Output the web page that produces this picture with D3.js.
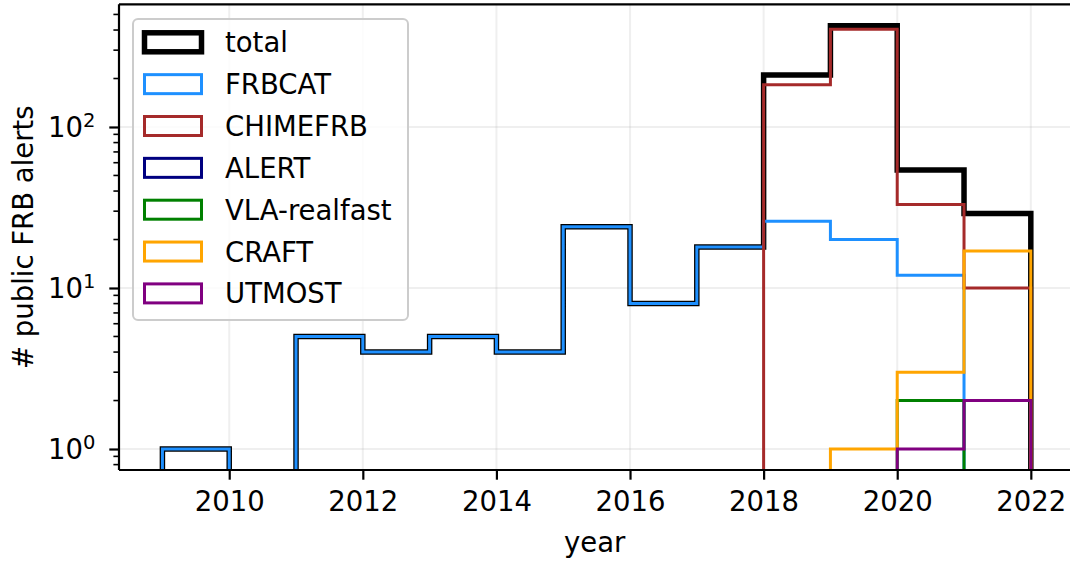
<!DOCTYPE html>
<html>
<head>
<meta charset="utf-8">
<script src="https://cdn.jsdelivr.net/npm/d3@7"></script>
<style>
  body { margin: 0; background: #fff; }
  text { font-family: "DejaVu Sans", sans-serif; fill: #000; }
</style>
</head>
<body>
<svg id="chart" width="1070" height="561"></svg>
<script>
// bin edges (years) and counts per bin
var binEdges = [2009, 2010, 2011, 2012, 2013, 2014, 2015, 2016, 2017, 2018, 2019, 2020, 2021, 2022];
var total    = [1, 0, 5, 4, 5, 4, 24, 8, 18, 210, 425, 54, 29];
var frbcat   = [1, 0, 5, 4, 5, 4, 24, 8, 18, 26, 20, 12, 0];
var chimefrb = [0, 0, 0, 0, 0, 0, 0, 0, 0, 183, 405, 33, 10];
var alert_   = [0, 0, 0, 0, 0, 0, 0, 0, 0, 0, 0, 0, 0];
var vla      = [0, 0, 0, 0, 0, 0, 0, 0, 0, 0, 0, 2, 0];
var craft    = [0, 0, 0, 0, 0, 0, 0, 0, 0, 0, 1, 3, 17];
var utmost   = [0, 0, 0, 0, 0, 0, 0, 0, 0, 0, 0, 1, 2];

var seriesNames  = ["total", "FRBCAT", "CHIMEFRB", "ALERT", "VLA-realfast", "CRAFT", "UTMOST"];
var seriesValues = [total, frbcat, chimefrb, alert_, vla, craft, utmost];
var seriesColors = ["#000000", "#1e90ff", "#a52a2a", "#000080", "#008000", "#ffa500", "#800080"];

var xTicks = [2010, 2012, 2014, 2016, 2018, 2020, 2022];
var yTicks = [1, 10, 100];

var marginLeft = 119, marginTop = 4.3;
var plotW = 1100 - marginLeft;
var plotH = 470 - marginTop;
var fontSize = 27.5;

var svg = d3.select("#chart");

var xScale = d3.scaleLinear().domain([2008.35, 2022.65]).range([0, 14.3 * 66.8]);
var yScale = d3.scaleLog().domain([0.7407, 578]).range([plotH, 0]);

var g = svg.append("g").attr("transform", "translate(" + marginLeft + "," + marginTop + ")");

svg.append("defs").append("clipPath").attr("id", "clip")
  .append("rect").attr("x", 0).attr("y", 0).attr("width", plotW).attr("height", plotH);

// grid
g.append("g").selectAll("line").data(xTicks).enter().append("line")
  .attr("x1", function(d) { return xScale(d); })
  .attr("x2", function(d) { return xScale(d); })
  .attr("y1", 0).attr("y2", plotH)
  .attr("stroke", "#b0b0b0").attr("stroke-opacity", 0.2).attr("stroke-width", 2);
g.append("g").selectAll("line").data(yTicks).enter().append("line")
  .attr("x1", 0).attr("x2", plotW)
  .attr("y1", function(d) { return yScale(d); })
  .attr("y2", function(d) { return yScale(d); })
  .attr("stroke", "#b0b0b0").attr("stroke-opacity", 0.2).attr("stroke-width", 2);

// step outlines
var line = d3.line();
function stepPoints(vals) {
  var yv = function(v) { return v > 0 ? yScale(v) : plotH + 20; };
  var pts = [[xScale(binEdges[0]), plotH + 20]];
  vals.forEach(function(v, i) {
    pts.push([xScale(binEdges[i]), yv(v)]);
    pts.push([xScale(binEdges[i + 1]), yv(v)]);
  });
  pts.push([xScale(binEdges[binEdges.length - 1]), plotH + 20]);
  return pts;
}

g.append("g").attr("clip-path", "url(#clip)")
  .selectAll("path").data(seriesValues).enter().append("path")
  .attr("d", function(d) { return line(stepPoints(d)); })
  .attr("fill", "none")
  .attr("stroke", function(d, i) { return seriesColors[i]; })
  .attr("stroke-width", function(d, i) { return i == 0 ? 5.5 : 3; })
  .attr("stroke-linejoin", "miter");

// x axis
var xAxis = g.append("g").attr("transform", "translate(0," + plotH + ")")
  .call(d3.axisBottom(xScale).tickValues(xTicks).tickFormat(d3.format("d"))
    .tickSize(9.7).tickPadding(12).tickSizeOuter(0));
xAxis.select(".domain").remove();
xAxis.selectAll("line").attr("stroke-width", 2.2);
xAxis.selectAll("text").style("font-size", fontSize + "px").style("font-family", "DejaVu Sans");

// y axis: major ticks + minor log ticks
var minorTicks = [];
[0.1, 1, 10, 100].forEach(function(dec) {
  for (var k = 2; k <= 9; k++) {
    var v = dec * k;
    if (v >= 0.7407 && v <= 578) minorTicks.push(v);
  }
});
g.append("g").selectAll("line").data(minorTicks).enter().append("line")
  .attr("x1", -5.6).attr("x2", 0)
  .attr("y1", function(d) { return yScale(d); })
  .attr("y2", function(d) { return yScale(d); })
  .attr("stroke", "#000").attr("stroke-width", 1.6);

var yAxis = g.append("g")
  .call(d3.axisLeft(yScale).tickValues(yTicks).tickFormat("").tickSize(9.7).tickSizeOuter(0));
yAxis.select(".domain").remove();
yAxis.selectAll("line").attr("stroke-width", 2.2);
yAxis.selectAll(".tick").each(function(d) {
  var t = d3.select(this).select("text")
    .attr("x", -23.5).attr("dy", "0.36em")
    .attr("text-anchor", "end")
    .style("font-size", fontSize + "px").style("font-family", "DejaVu Sans");
  t.append("tspan").text("10");
  t.append("tspan").attr("dy", -10).style("font-size", "19.5px").text(Math.round(Math.log10(d)));
});

// spines (left, top, bottom)
g.append("line").attr("x1", 0).attr("x2", 0).attr("y1", 0).attr("y2", plotH)
  .attr("stroke", "#000").attr("stroke-width", 2.2);
g.append("line").attr("x1", 0).attr("x2", plotW).attr("y1", 0).attr("y2", 0)
  .attr("stroke", "#000").attr("stroke-width", 2.2);
g.append("line").attr("x1", 0).attr("x2", plotW).attr("y1", plotH).attr("y2", plotH)
  .attr("stroke", "#000").attr("stroke-width", 2.2);

// axis labels
svg.append("text").attr("x", marginLeft + xScale(2015.5) - 2).attr("y", 551.5)
  .attr("text-anchor", "middle").style("font-size", fontSize + "px").text("year");
svg.append("text").attr("transform", "translate(33," + (marginTop + plotH / 2) + ") rotate(-90)")
  .attr("text-anchor", "middle").style("font-size", fontSize + "px").text("# public FRB alerts");

// legend
var legend = svg.append("g");
legend.append("rect").attr("x", 133).attr("y", 19).attr("width", 275).attr("height", 301)
  .attr("rx", 5).attr("fill", "#fff").attr("fill-opacity", 0.8)
  .attr("stroke", "#cccccc").attr("stroke-width", 2);
var rows = legend.selectAll("g.row").data(seriesNames).enter().append("g")
  .attr("class", "row")
  .attr("transform", function(d, i) { return "translate(0," + (42.3 + i * 41.85) + ")"; });
rows.append("rect").attr("x", 144.5).attr("y", -9.5).attr("width", 57).attr("height", 19)
  .attr("fill", "none")
  .attr("stroke", function(d, i) { return seriesColors[i]; })
  .attr("stroke-width", function(d, i) { return i == 0 ? 5.5 : 3; });
rows.append("text").attr("x", 225).attr("y", 10)
  .style("font-size", fontSize + "px").text(function(d) { return d; });
</script>
</body>
</html>
